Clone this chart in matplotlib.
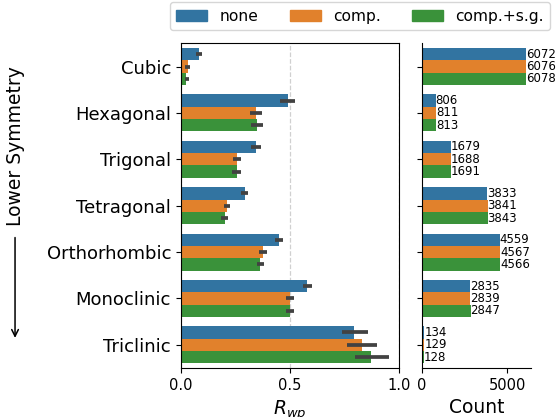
import numpy as np
import matplotlib
matplotlib.use("Agg")
import matplotlib.pyplot as plt
from matplotlib.patches import Patch, FancyArrowPatch

systems = ["Cubic", "Hexagonal", "Trigonal", "Tetragonal", "Orthorhombic", "Monoclinic", "Triclinic"]
methods = ["none", "comp.", "comp.+s.g."]
colors = ["#3274a1", "#e1812c", "#3a923a"]

# mean Rwp per crystal system, with confidence interval bounds
rwp_none = [0.083, 0.492, 0.345, 0.295, 0.451, 0.580, 0.796]
rwp_none_lo = [0.069, 0.457, 0.324, 0.276, 0.434, 0.562, 0.738]
rwp_none_hi = [0.097, 0.526, 0.368, 0.310, 0.468, 0.600, 0.857]

rwp_comp = [0.031, 0.344, 0.258, 0.212, 0.377, 0.500, 0.833]
rwp_comp_lo = [0.018, 0.318, 0.240, 0.197, 0.360, 0.484, 0.761]
rwp_comp_hi = [0.041, 0.374, 0.278, 0.227, 0.394, 0.520, 0.902]

rwp_sg = [0.026, 0.350, 0.258, 0.202, 0.364, 0.500, 0.874]
rwp_sg_lo = [0.018, 0.324, 0.236, 0.186, 0.348, 0.484, 0.800]
rwp_sg_hi = [0.040, 0.376, 0.276, 0.216, 0.382, 0.520, 0.955]

count_none = [6072, 806, 1679, 3833, 4559, 2835, 134]
count_comp = [6076, 811, 1688, 3841, 4567, 2839, 129]
count_sg = [6078, 813, 1691, 3843, 4566, 2847, 128]

rwp = [rwp_none, rwp_comp, rwp_sg]
rwp_lo = [rwp_none_lo, rwp_comp_lo, rwp_sg_lo]
rwp_hi = [rwp_none_hi, rwp_comp_hi, rwp_sg_hi]
counts = [count_none, count_comp, count_sg]

fig = plt.figure(figsize=(5.57, 4.17), dpi=100)
ax1 = fig.add_axes([0.3245, 0.1175, 0.3913, 0.7785])
ax2 = fig.add_axes([0.7576, 0.1175, 0.1957, 0.7785])

y = np.arange(len(systems))
h = 0.8 / 3
for k in range(3):
    pos = y + (k - 1) * h
    vals = np.array(rwp[k])
    ax1.barh(pos, vals, height=h, color=colors[k], zorder=2)
    err = [vals - np.array(rwp_lo[k]), np.array(rwp_hi[k]) - vals]
    ax1.errorbar(vals, pos, xerr=err, fmt="none", ecolor="#424242",
                 elinewidth=2.7, capsize=0, zorder=3)
    bars = ax2.barh(pos, counts[k], height=h, color=colors[k])
    ax2.bar_label(bars, fontsize=8.5, padding=0)

ax1.set_xlim(0, 1.0)
ax1.set_xticks([0, 0.5, 1.0])
ax1.set_ylim(6.5, -0.5)
ax1.set_yticks(y)
ax1.set_yticklabels(systems, fontsize=13)
ax1.tick_params(axis="x", labelsize=10.5)
ax1.grid(axis="x", ls="--", color="#d0d0d0", lw=0.9, zorder=0)
ax1.set_xlabel("$R_{wp}$", fontsize=13.5)

ax2.set_ylim(6.5, -0.5)
ax2.set_yticks(y)
ax2.set_yticklabels([])
ax2.set_xticks([0, 5000])
ax2.tick_params(axis="x", labelsize=10.5)
ax2.spines["top"].set_visible(False)
ax2.spines["right"].set_visible(False)
ax2.set_xlabel("Count", fontsize=13.5)

fig.text(0.027, 0.649, "Lower Symmetry", rotation=90, fontsize=13.5,
         ha="center", va="center")
fig.add_artist(FancyArrowPatch(
    (0.027, 0.437), (0.027, 0.183), transform=fig.transFigure,
    arrowstyle="->", mutation_scale=12, color="black", lw=1.1))

handles = [Patch(color=c, label=m) for c, m in zip(colors, methods)]
fig.legend(handles=handles, ncol=3, fontsize=11.2, loc="upper right",
           bbox_to_anchor=(1.002, 1.013))

fig.savefig("out.png", dpi=100)
